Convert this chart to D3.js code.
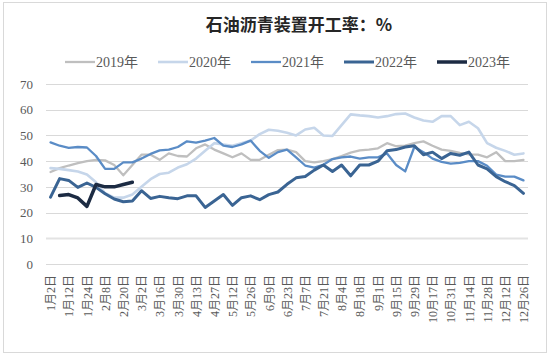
<!DOCTYPE html>
<html><head><meta charset="utf-8">
<script src="https://cdn.jsdelivr.net/npm/d3@7"></script>
<style>
html,body{margin:0;padding:0;background:#fff;}
svg{display:block;}
</style></head>
<body>
<svg id="chart" width="550" height="356"></svg>
<script>
const categories = ["1月2日","1月7日","1月12日","1月18日","1月24日","2月1日","2月8日","2月14日","2月20日","2月24日",
"3月2日","3月9日","3月16日","3月23日","3月30日","4月6日","4月13日","4月20日","4月27日","5月5日",
"5月12日","5月19日","5月26日","6月2日","6月9日","6月16日","6月23日","6月30日","7月7日","7月14日",
"7月21日","7月28日","8月4日","8月11日","8月18日","8月25日","9月1日","9月8日","9月15日","9月22日",
"9月29日","10月10日","10月17日","10月24日","10月31日","11月7日","11月14日","11月21日","11月28日","12月5日",
"12月12日","12月19日","12月26日"];

const y2019 = [35.8,37.3,38.3,39.2,40,40.5,40.3,38.5,34.5,38.5,
42.5,42.5,40.5,43,42,41.8,45,46.5,44.5,43,
41.5,43,40.5,40.5,42.5,44.3,44.5,43.5,40,39.5,
40,40.8,42,43.3,44.2,44.5,45,47,45.8,46,
47,47.7,46,44.5,44,43.2,42.6,42.5,41.5,43.5,
40,40,40.5];
const y2020 = [37.3,37,36.5,36,34.8,31.8,27.5,25.8,25.8,27,
30,33,35,35.5,37.5,38.8,41,44,47,46.5,
46,47,48,50.5,52.2,51.8,51,50,52.3,53,
50,49.8,54,58.2,57.8,57.5,57,57.5,58.3,58.5,
57,55.8,55.3,57.5,57.5,54,55.3,52.8,47,45.2,
44,42.5,43];
const y2021 = [47.3,46,45.2,45.5,45.3,42,37,37,39.5,39.5,
41,42.8,44.2,44.5,45.5,47.7,47.2,48,49,46,
45.5,46.5,48,44,41.3,43.5,44.5,41.5,38.3,37.5,
38.6,40.8,41.5,41.8,41,41.5,41.5,43,38.5,36,
45.5,43.5,41,39.7,39,39.3,40,40,38.2,34.8,
34,34,32.5];
const y2022 = [26,33.2,32.5,29.8,31.5,29.8,27.3,25.3,24.2,24.5,
28.5,25.5,26.3,25.8,25.4,26.5,26.5,22,24.5,27,
22.8,25.8,26.5,25,27,28,31,33.5,34,36.5,
38.5,36,38.5,34.3,38.5,38.5,40,44,44.5,45.5,
46,42.5,43.5,41,43,42.3,43.5,38.5,37,34,
32,30.5,27.5];
const y2023 = [null,26.6,27,25.7,22.4,30.9,30,30,30.9,31.8];

const seriesNames = ["2019年","2020年","2021年","2022年","2023年"];
const seriesColors = ["#bfbfbf","#c6d6ea","#5a8cc6","#3a6493","#1c2b43"];
const seriesWidths = [2.3,2.6,2.3,3,3.5];
const yTicks = [0,10,20,30,40,50,60,70];
const titleText = "石油沥青装置开工率：%";

const seriesData = [y2019,y2020,y2021,y2022,y2023];

const svg = d3.select("#chart");
const W = 550, H = 356;
const M = {left:46, right:22, top:84, bottom:92};

svg.append("rect").attr("x",3.5).attr("y",2.5).attr("width",543).attr("height",350)
  .attr("fill","#fff").attr("stroke","#d9d9d9").attr("stroke-width",1);

const x = d3.scalePoint().domain(categories).range([M.left, W - M.right]).padding(0.5);
const y = d3.scaleLinear().domain([0,70]).range([H - M.bottom, M.top]);

// gridlines
const grid = svg.append("g");
grid.selectAll("line").data(yTicks).join("line")
  .attr("x1",M.left).attr("x2",W - M.right)
  .attr("y1",d=>Math.round(y(d))+0.5).attr("y2",d=>Math.round(y(d))+0.5)
  .attr("stroke",d=> d===10 ? "#e3e3e3" : "#d9d9d9")
  .attr("stroke-width",d=> d===10 ? 2 : 1);

// y axis labels
const yAxis = d3.axisLeft(y).tickValues(yTicks).tickSize(0).tickPadding(13);
const yg = svg.append("g").attr("transform",`translate(${M.left},0)`).call(yAxis);
yg.select(".domain").remove();
yg.selectAll("text").attr("font-family","'Liberation Serif','Times New Roman',serif")
  .attr("font-size",13).attr("fill","#595959");

// x axis labels
const xAxis = d3.axisBottom(x).tickValues(categories.filter((d,i)=>i%2===0)).tickSize(0);
const xg = svg.append("g").attr("transform",`translate(0,${H - M.bottom})`).call(xAxis);
xg.select(".domain").remove();
xg.selectAll("text")
  .attr("font-family","'Liberation Serif','Noto Sans CJK SC',serif")
  .attr("font-size",12).attr("fill","#595959")
  .attr("text-anchor","end")
  .attr("transform","translate(0,11) rotate(-90)")
  .attr("x",0).attr("y",0).attr("dy","0.35em");

// lines
const line = d3.line()
  .defined(d=>d.v!=null)
  .x(d=>x(d.c)).y(d=>y(d.v));

seriesData.forEach((arr,si)=>{
  const pts = arr.map((v,i)=>({c:categories[i], v:v}));
  svg.append("path").datum(pts)
    .attr("fill","none")
    .attr("stroke",seriesColors[si])
    .attr("stroke-width",seriesWidths[si])
    .attr("stroke-linejoin","round")
    .attr("stroke-linecap","round")
    .attr("d",line);
});

// title
svg.append("text").attr("x",299).attr("y",31).attr("text-anchor","middle")
  .attr("font-family","'Noto Sans CJK SC',sans-serif").attr("font-weight","bold")
  .attr("font-size",17).attr("fill","#262626").text(titleText);

// legend
const lg = svg.append("g");
seriesNames.forEach((n,i)=>{
  const gx = 65 + i*93;
  lg.append("line").attr("x1",gx).attr("x2",gx+30).attr("y1",62).attr("y2",62)
    .attr("stroke",seriesColors[i]).attr("stroke-width",seriesWidths[i]);
  lg.append("text").attr("x",gx+31).attr("y",67)
    .attr("font-family","'Liberation Serif','Noto Sans CJK SC',serif")
    .attr("font-size",14).attr("fill","#595959").text(n);
});
</script>
</body></html>
